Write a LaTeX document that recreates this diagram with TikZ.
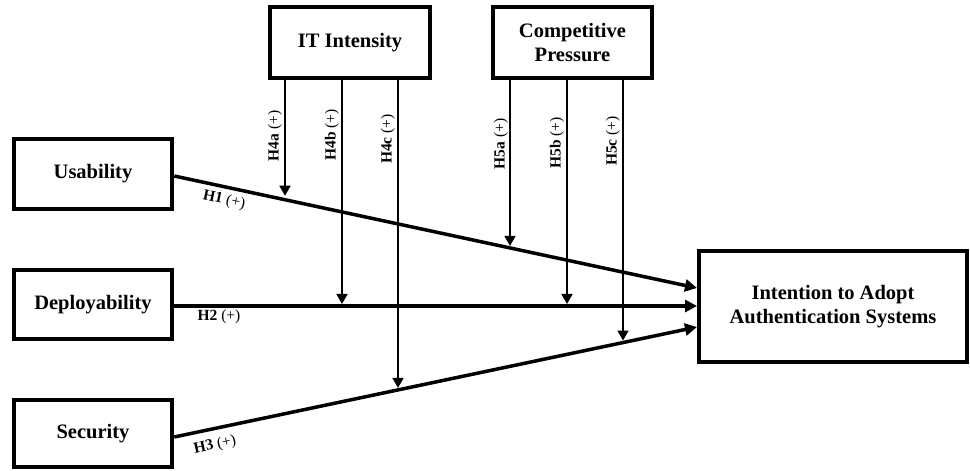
\documentclass[tikz,border=0pt]{standalone}
\usepackage{fontspec}
\setmainfont{Liberation Serif}
\usetikzlibrary{arrows.meta,intersections}

\begin{document}
\begin{tikzpicture}[x=1pt,y=-1pt,
  box/.style={draw, line width=4pt, align=center, inner sep=0pt,
    font=\fontsize{20.5}{24}\selectfont\bfseries},
  mainlink/.style={line width=3.5pt, -{Triangle[length=12pt,width=12pt]}},
  modlink/.style={line width=1.6pt, -{Triangle[length=10pt,width=11pt]}, shorten >=2pt},
  hlab/.style={inner sep=0pt, font=\fontsize{15.5}{17}\selectfont}
]
\fill[white] (0,0) rectangle (970,471);
\useasboundingbox (0,0) rectangle (970,471);

% constructs
\node[box, minimum width=158.5pt, minimum height=70pt] (u) at (93,173.5) {Usability};
\node[box, minimum width=158.5pt, minimum height=69pt] (d) at (93,304.5) {Deployability};
\node[box, minimum width=158.5pt, minimum height=67pt] (s) at (93,433.5) {Security};
\node[box, minimum width=160pt, minimum height=71pt] (it) at (350,42.5) {IT Intensity};
\node[box, minimum width=159pt, minimum height=71pt] (cp) at (572.5,42.5) {Competitive\\Pressure};
\node[box, minimum width=268pt, minimum height=111pt] (i) at (833,306.5) {Intention to Adopt\\Authentication Systems};

% end points of the direct paths
\coordinate (u1) at ([yshift=-2.5pt]u.east);
\coordinate (d1) at ([yshift=-1.5pt]d.east);
\coordinate (s1) at ([yshift=-3.5pt]s.east);
\coordinate (iu) at ([yshift=18.5pt]i.west);
\coordinate (id) at ([yshift=0.5pt]i.west);
\coordinate (is) at ([yshift=-20.5pt]i.west);

% direct effects
\draw[mainlink, name path=lu] (u1) -- (iu);
\draw[mainlink, name path=ld] (d1) -- (id);
\draw[mainlink, name path=ls] (s1) -- (is);

% moderating effects
\coordinate (t4a) at ([xshift=-65pt]it.south);
\coordinate (t4b) at ([xshift=-8pt]it.south);
\coordinate (t4c) at ([xshift=48pt]it.south);
\coordinate (t5a) at ([xshift=-62.5pt]cp.south);
\coordinate (t5b) at ([xshift=-5.5pt]cp.south);
\coordinate (t5c) at ([xshift=50.5pt]cp.south);

\path[name path=v4a] (t4a) -- ++(0,420);
\path[name path=v4b] (t4b) -- ++(0,420);
\path[name path=v4c] (t4c) -- ++(0,420);
\path[name path=v5a] (t5a) -- ++(0,420);
\path[name path=v5b] (t5b) -- ++(0,420);
\path[name path=v5c] (t5c) -- ++(0,420);

\draw[modlink, shorten >=4pt, name intersections={of=v4a and lu, by=x4a}] (t4a) -- (x4a);
\draw[modlink, name intersections={of=v4b and ld, by=x4b}] (t4b) -- (x4b);
\draw[modlink, name intersections={of=v4c and ls, by=x4c}] (t4c) -- (x4c);
\draw[modlink, name intersections={of=v5a and lu, by=x5a}] (t5a) -- (x5a);
\draw[modlink, name intersections={of=v5b and ld, by=x5b}] (t5b) -- (x5b);
\draw[modlink, name intersections={of=v5c and ls, by=x5c}] (t5c) -- (x5c);

% hypothesis labels
\node[hlab, rotate=-12] (h1) at (224,200) {\textbf{H1} (+)};
\node[hlab] (h2) at (219,317) {\textbf{H2} (+)};
\node[hlab, rotate=12] (h3) at (215,445) {\textbf{H3} (+)};
\node[hlab, rotate=90] (h4a) at (275,136) {\textbf{H4a} (+)};
\node[hlab, rotate=90] (h4b) at (332,135) {\textbf{H4b} (+)};
\node[hlab, rotate=90] (h4c) at (388,139) {\textbf{H4c} (+)};
\node[hlab, rotate=90] (h5a) at (501,144) {\textbf{H5a} (+)};
\node[hlab, rotate=90] (h5b) at (557,143) {\textbf{H5b} (+)};
\node[hlab, rotate=90] (h5c) at (613,141) {\textbf{H5c} (+)};
\end{tikzpicture}
\end{document}
